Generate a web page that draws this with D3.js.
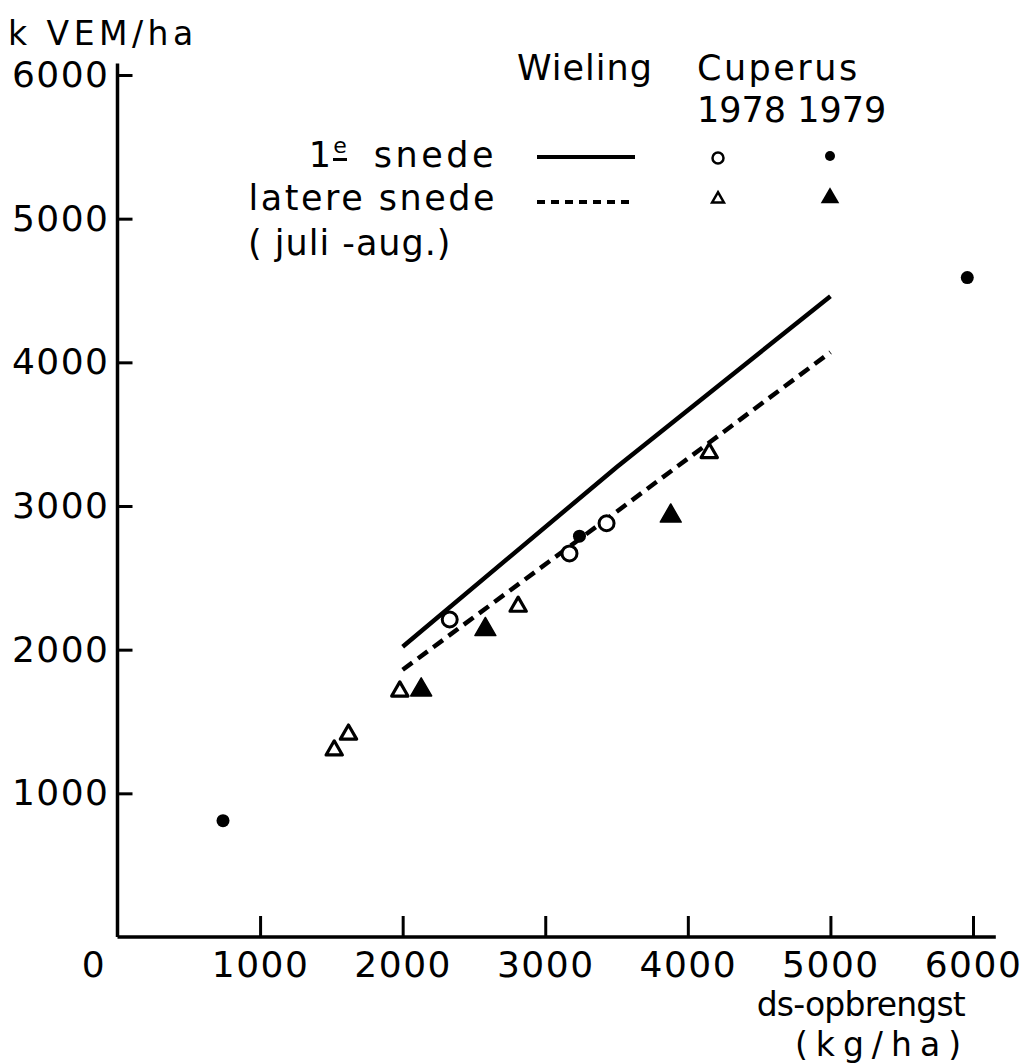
<!DOCTYPE html>
<html><head><meta charset="utf-8">
<script src="https://cdn.jsdelivr.net/npm/d3@7"></script>
<style>body{margin:0;background:#fff}text{font-family:"DejaVu Sans",sans-serif;fill:#000}</style>
</head><body><svg id="c" width="1034" height="1063"></svg>
<script>
// ---- data ----
const xTicks = [1000, 2000, 3000, 4000, 5000, 6000];
const yTicks = [1000, 2000, 3000, 4000, 5000, 6000];
// Wieling regression lines
const wielingFirst = [[2000, 2020], [3500, 3270], [5000, 4460]];
const wielingLater = [[2000, 1860], [3500, 2960], [5000, 4070]];
// Cuperus points
const firstCut1978 = [[2330, 2210], [3170, 2670], [3430, 2880]];
const firstCut1979 = [[740, 810], [3240, 2790], [5960, 4590]];
const laterCut1978 = [[1520, 1300], [1620, 1410], [1980, 1710], [2810, 2300], [4150, 3370]];
const laterCut1979 = [[2130, 1720], [2580, 2140], [3880, 2930]];

const svg = d3.select("#c");
const x = d3.scaleLinear([0, 6000], [117.5, 973]);
const y = d3.scaleLinear([0, 6000], [937, 75]);

// axes
const xa = svg.append("g").attr("transform", `translate(0,${y(0)})`)
  .call(d3.axisBottom(x).tickValues(xTicks).tickSize(-21).tickSizeOuter(0).tickPadding(14).tickFormat(d3.format("d")));
const ya = svg.append("g").attr("transform", `translate(${x(0)},0)`)
  .call(d3.axisLeft(y).tickValues(yTicks).tickSize(-15).tickSizeOuter(0).tickPadding(8).tickFormat(d3.format("d")));
[xa, ya].forEach(g => {
  g.select(".domain").remove();
  g.selectAll(".tick line").attr("stroke", "#000").attr("stroke-width", 3);
  g.selectAll(".tick text").attr("font-family", "DejaVu Sans").attr("font-size", 36).attr("letter-spacing", 1.5).attr("fill", "#000");
});
svg.append("line").attr("x1", x(0)).attr("x2", x(6160)).attr("y1", y(0)).attr("y2", y(0)).attr("stroke", "#000").attr("stroke-width", 3.5);
svg.append("line").attr("x1", x(0)).attr("x2", x(0)).attr("y1", y(0)).attr("y2", y(6080)).attr("stroke", "#000").attr("stroke-width", 3.5);
svg.append("text").attr("x", x(-170)).attr("y", y(0) + 14).attr("dy", "0.71em").attr("text-anchor", "middle").attr("font-size", 36).text("0");

// axis titles
svg.append("text").attr("x", 8).attr("y", 45).attr("font-size", 33).attr("letter-spacing", 4.5).text("k VEM/ha");
svg.append("text").attr("x", 965).attr("y", 1016).attr("text-anchor", "end").attr("font-size", 33).attr("letter-spacing", -0.8).text("ds-opbrengst");
svg.append("text").attr("x", 969).attr("y", 1056).attr("text-anchor", "end").attr("font-size", 33).attr("letter-spacing", 8).text("(kg/ha)");

// lines
const line = d3.line().x(d => x(d[0])).y(d => y(d[1]));
svg.append("path").datum(wielingFirst).attr("d", line).attr("fill", "none").attr("stroke", "#000").attr("stroke-width", 4.5);
svg.append("path").datum(wielingLater).attr("d", line).attr("fill", "none").attr("stroke", "#000").attr("stroke-width", 4.5).attr("stroke-dasharray", "12 7");

// markers
const tri = d3.symbol().type(d3.symbolTriangle);
svg.append("g").selectAll("circle").data(firstCut1978).join("circle")
  .attr("cx", d => x(d[0])).attr("cy", d => y(d[1])).attr("r", 7.5).attr("fill", "#fff").attr("stroke", "#000").attr("stroke-width", 3);
svg.append("g").selectAll("circle").data(firstCut1979).join("circle")
  .attr("cx", d => x(d[0])).attr("cy", d => y(d[1])).attr("r", 6.5).attr("fill", "#000");
svg.append("g").selectAll("path").data(laterCut1978).join("path")
  .attr("transform", d => `translate(${x(d[0])},${y(d[1])})`).attr("d", tri.size(115)()).attr("fill", "#fff").attr("stroke", "#000").attr("stroke-width", 3.2).attr("stroke-linejoin", "round");
svg.append("g").selectAll("path").data(laterCut1979).join("path")
  .attr("transform", d => `translate(${x(d[0])},${y(d[1])})`).attr("d", tri.size(190)()).attr("fill", "#000").attr("stroke", "#000").attr("stroke-width", 1.5).attr("stroke-linejoin", "round");

// legend
const fs = 35;
svg.append("text").attr("x", 517).attr("y", 80).attr("font-size", fs).attr("letter-spacing", 1).text("Wieling");
svg.append("text").attr("x", 697).attr("y", 80).attr("font-size", fs).attr("letter-spacing", 2.5).text("Cuperus");
svg.append("text").attr("x", 697).attr("y", 122).attr("font-size", fs).attr("letter-spacing", 0).text("1978 1979");
// "1e snede": the superscript e is underlined
const eX = 340;
svg.append("text").attr("x", 497).attr("y", 167).attr("text-anchor", "end").attr("font-size", fs).attr("letter-spacing", 3.5).text("snede");
svg.append("text").attr("x", eX).attr("y", 153).attr("text-anchor", "middle").attr("font-size", 22).text("e");
svg.append("text").attr("x", eX - 9).attr("y", 167).attr("text-anchor", "end").attr("font-size", fs).text("1");
svg.append("rect").attr("x", eX - 7).attr("y", 158).attr("width", 14).attr("height", 3).attr("fill", "#000");

svg.append("text").attr("x", 497).attr("y", 210).attr("text-anchor", "end").attr("font-size", fs).attr("letter-spacing", 2.5).text("latere snede");
svg.append("text").attr("x", 248).attr("y", 255).attr("font-size", fs).attr("letter-spacing", 1).text("( juli -aug.)");
svg.append("line").attr("x1", 537).attr("x2", 635).attr("y1", 157).attr("y2", 157).attr("stroke", "#000").attr("stroke-width", 4);
svg.append("line").attr("x1", 537).attr("x2", 635).attr("y1", 202).attr("y2", 202).attr("stroke", "#000").attr("stroke-width", 4).attr("stroke-dasharray", "8 6");
svg.append("circle").attr("cx", 718).attr("cy", 158).attr("r", 5.5).attr("fill", "#fff").attr("stroke", "#000").attr("stroke-width", 2.5);
svg.append("circle").attr("cx", 830).attr("cy", 156).attr("r", 5).attr("fill", "#000");
svg.append("path").attr("transform", "translate(718,199)").attr("d", tri.size(60)()).attr("fill", "#fff").attr("stroke", "#000").attr("stroke-width", 2.5);
svg.append("path").attr("transform", "translate(830,198)").attr("d", tri.size(150)()).attr("fill", "#000");
</script></body></html>
